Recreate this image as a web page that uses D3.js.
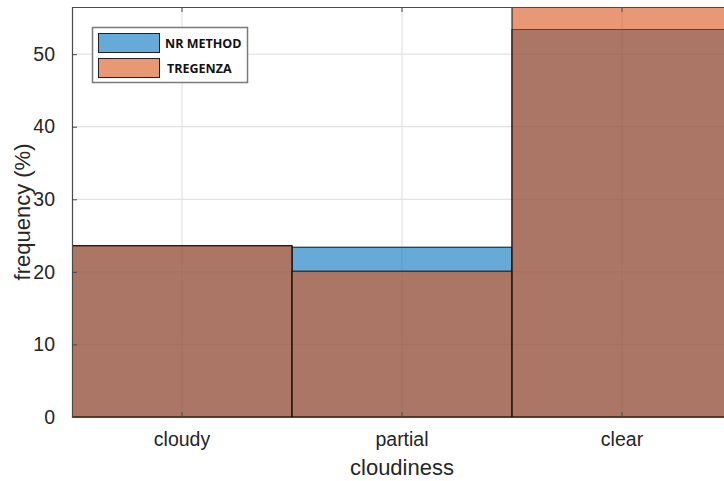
<!DOCTYPE html>
<html>
<head>
<meta charset="utf-8">
<script src="https://cdn.jsdelivr.net/npm/d3@7"></script>
<style>
  html, body { margin: 0; padding: 0; background: #fff; }
  svg { display: block; }
</style>
</head>
<body>
<svg id="chart" width="724" height="481"></svg>
<script>
// Cloudiness classes and their frequency (%) for each classification method
const categories = ["cloudy", "partial", "clear"];
const nrMethod = [23.6, 23.4, 53.4];
const tregenza = [23.6, 20.1, 56.5];
const yTicks = [0, 10, 20, 30, 40, 50];
const seriesNames = ["NR METHOD", "TREGENZA"];

const plot = { left: 72, right: 732, top: 7, bottom: 417 };

const svg = d3.select("#chart");

const x = d3.scaleBand()
  .domain(categories)
  .range([plot.left, plot.right])
  .padding(0);

const y = d3.scaleLinear()
  .domain([0, 56.5])
  .range([plot.bottom, plot.top]);

const colors = ["rgb(0,114,189)", "rgb(217,83,25)"];
const axisColor = "#4a4a4a";
const font = "'Liberation Sans', Arial, Helvetica, sans-serif";

svg.append("defs").append("clipPath").attr("id", "plotClip")
  .append("rect")
  .attr("x", plot.left).attr("y", plot.top)
  .attr("width", plot.right - plot.left).attr("height", plot.bottom - plot.top);

// grid lines
const grid = svg.append("g");
grid.selectAll("line.gy").data(yTicks.filter(d => d > 0)).join("line")
  .attr("x1", plot.left).attr("x2", plot.right)
  .attr("y1", d => y(d)).attr("y2", d => y(d))
  .attr("stroke", "#dcdcdc").attr("stroke-width", 1);
grid.selectAll("line.gx").data(categories).join("line")
  .attr("x1", d => x(d) + x.bandwidth() / 2).attr("x2", d => x(d) + x.bandwidth() / 2)
  .attr("y1", plot.top).attr("y2", plot.bottom)
  .attr("stroke", "#dcdcdc").attr("stroke-width", 1);

// histogram bars, one layer per series
const bars = svg.append("g").attr("clip-path", "url(#plotClip)");
[nrMethod, tregenza].forEach((vals, si) => {
  bars.append("g").selectAll("rect").data(categories).join("rect")
    .attr("x", d => x(d))
    .attr("width", x.bandwidth())
    .attr("y", (d, i) => y(vals[i]))
    .attr("height", (d, i) => y(0) - y(vals[i]))
    .attr("fill", colors[si])
    .attr("fill-opacity", 0.6)
    .attr("stroke", "#111")
    .attr("stroke-width", 1);
});

// axes
const yAxis = d3.axisLeft(y).tickValues(yTicks).tickSize(-5).tickPadding(17).tickFormat(d3.format("d"));
const gy = svg.append("g").attr("transform", `translate(${plot.left},0)`).call(yAxis);
gy.select(".domain").attr("stroke", axisColor).attr("stroke-width", 1.2);
gy.selectAll(".tick line").attr("stroke", axisColor);
gy.selectAll(".tick text").attr("font-family", font).attr("font-size", 19.5).attr("fill", "#262626");

const xAxis = d3.axisBottom(x).tickSize(-5).tickPadding(15).tickSizeOuter(0);
const gx = svg.append("g").attr("transform", `translate(0,${plot.bottom})`).call(xAxis);
gx.select(".domain").attr("stroke", axisColor).attr("stroke-width", 1.2);
gx.selectAll(".tick line").attr("stroke", axisColor);
gx.selectAll(".tick text").attr("font-family", font).attr("font-size", 19.5).attr("fill", "#262626");

const xTop = d3.axisTop(x).tickSize(-5).tickFormat("").tickSizeOuter(0);
const gt = svg.append("g").attr("transform", `translate(0,${plot.top})`).call(xTop);
gt.select(".domain").attr("stroke", axisColor).attr("stroke-width", 1.2);
gt.selectAll(".tick line").attr("stroke", axisColor);

// axis labels
svg.append("text")
  .attr("x", 402).attr("y", 475)
  .attr("text-anchor", "middle")
  .attr("font-family", font).attr("font-size", 22).attr("fill", "#262626")
  .text("cloudiness");
svg.append("text")
  .attr("transform", `translate(30,${(plot.top + plot.bottom) / 2}) rotate(-90)`)
  .attr("text-anchor", "middle")
  .attr("font-family", font).attr("font-size", 22).attr("fill", "#262626")
  .text("frequency (%)");

// legend
const legend = svg.append("g");
legend.append("rect")
  .attr("x", 92.5).attr("y", 27.5).attr("width", 155).attr("height", 55)
  .attr("fill", "#fff").attr("stroke", "#7a7a7a").attr("stroke-width", 1.5);
seriesNames.forEach((name, i) => {
  legend.append("rect")
    .attr("x", 98.5).attr("y", 33.5 + i * 25).attr("width", 61).attr("height", 19)
    .attr("fill", colors[i]).attr("fill-opacity", 0.6)
    .attr("stroke", "#222").attr("stroke-width", 1);
  legend.append("text")
    .attr("x", i === 0 ? 165 : 167).attr("y", 48 + i * 25)
    .attr("font-family", "'Open Sans', 'Liberation Sans', sans-serif")
    .attr("font-weight", "bold").attr("font-size", 12.5)
    .attr("fill", "#111")
    .text(name);
});
</script>
</body>
</html>
